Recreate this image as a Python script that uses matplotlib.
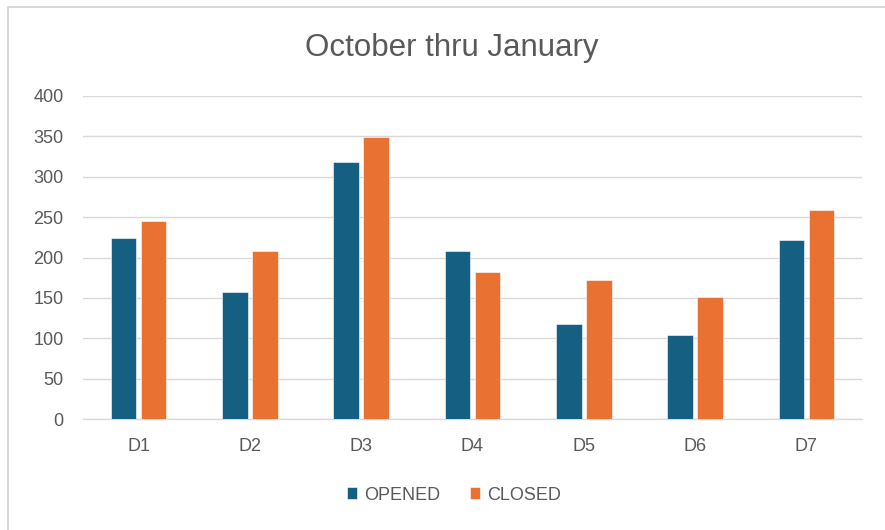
import numpy as np
import matplotlib
matplotlib.use("Agg")
import matplotlib.pyplot as plt
from matplotlib.patches import Rectangle

## Data
categories = ["D1", "D2", "D3", "D4", "D5", "D6", "D7"]
opened = [224, 157, 318, 208, 118, 104, 222]
closed = [245, 208, 349, 182, 172, 151, 259]
y_ticks = [0, 50, 100, 150, 200, 250, 300, 350, 400]

blue = "#156082"
orange = "#E97132"
text_gray = "#595959"
grid_gray = "#D9D9D9"

plt.rcParams["font.family"] = ["Liberation Sans", "DejaVu Sans"]

fig = plt.figure(figsize=(8.85, 5.3), dpi=100)
# light chart-area border (right/bottom edges fall outside the picture)
fig.patches.append(Rectangle((8 / 885, -0.1), 1.2, 1.1 - 7 / 530,
                             transform=fig.transFigure, fill=False,
                             edgecolor="#D0D0D0", linewidth=1.2))

ax = fig.add_axes([83 / 885, 1 - 419 / 530, 779 / 885, 323 / 530])

x = np.arange(len(categories))
w = 0.23
ax.bar(x - 0.135, opened, width=w, color=blue, edgecolor="white", linewidth=0.4, label="OPENED", zorder=3)
ax.bar(x + 0.135, closed, width=w, color=orange, edgecolor="white", linewidth=0.4, label="CLOSED", zorder=3)

ax.set_xlim(-0.5, len(categories) - 0.5)
ax.set_ylim(0, 400)
ax.set_yticks(y_ticks)
ax.set_xticks(x)
ax.set_xticklabels(categories)
ax.yaxis.grid(True, color=grid_gray, linewidth=1.0, zorder=0)
ax.tick_params(axis="both", length=0, labelsize=13, labelcolor=text_gray)
ax.tick_params(axis="x", pad=14)
ax.tick_params(axis="y", pad=14)
for s in ["top", "right", "left"]:
    ax.spines[s].set_visible(False)
ax.spines["bottom"].set_color(grid_gray)
ax.spines["bottom"].set_linewidth(1.0)

fig.text(452 / 885, 1 - 48 / 530, "October thru January", fontsize=22.5,
         color=text_gray, ha="center", va="center")

leg = fig.legend(loc="center", bbox_to_anchor=(454 / 885, 1 - 495 / 530), ncol=2,
                 frameon=False, fontsize=13, handlelength=0.6, handleheight=0.6,
                 handletextpad=0.4, columnspacing=1.6)
for t in leg.get_texts():
    t.set_color(text_gray)

fig.savefig("out.png", dpi=100)
